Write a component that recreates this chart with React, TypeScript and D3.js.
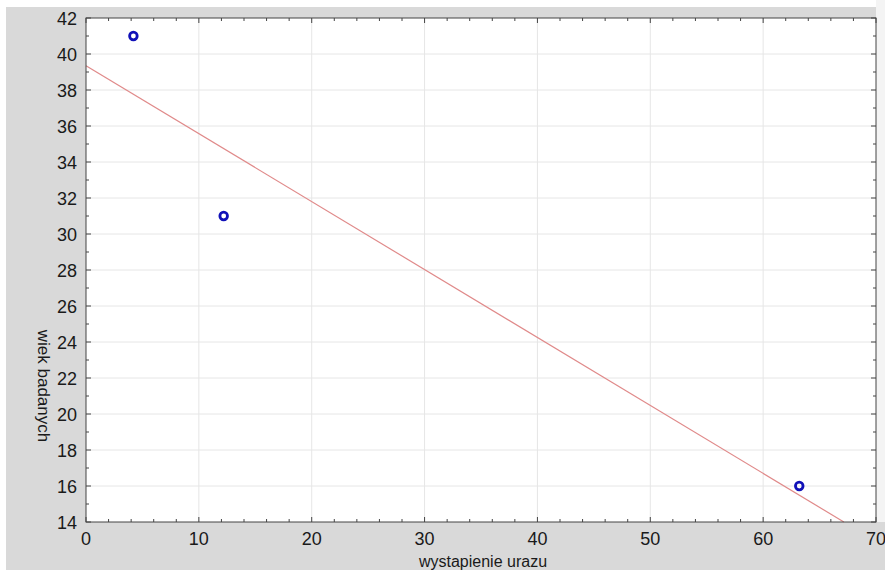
import { useEffect, useRef } from "react";
import * as d3 from "d3";

// wystąpienie urazu vs wiek badanych
const injuryOnset = [4.2, 12.2, 63.2];
const respondentAge = [41, 31, 16];
const xTicks = [0, 10, 20, 30, 40, 50, 60, 70];
const yTicks = [14, 16, 18, 20, 22, 24, 26, 28, 30, 32, 34, 36, 38, 40, 42];

const W = 885;
const H = 570;

export default function App() {
  const ref = useRef<SVGSVGElement>(null);

  useEffect(() => {
    const svg = d3.select(ref.current);
    svg.selectAll("*").remove();

    const margin = { top: 18, right: 9, bottom: 48, left: 86 };
    const x = d3.scaleLinear().domain([0, 70]).range([margin.left, W - margin.right]);
    const y = d3.scaleLinear().domain([14, 42]).range([H - margin.bottom, margin.top]);
    const [x0, x1] = x.range();
    const [y0, y1] = y.range();

    svg.append("rect").attr("width", W).attr("height", H).attr("fill", "#fff");
    svg.append("rect").attr("x", 6).attr("y", 7).attr("width", W - 6).attr("height", H - 7).attr("fill", "#d9d9d9");
    svg.append("rect").attr("x", x1).attr("y", 0).attr("width", W - x1).attr("height", y0).attr("fill", "#f4f4f4");
    svg.append("rect").attr("x", x0).attr("y", y1).attr("width", x1 - x0).attr("height", y0 - y1).attr("fill", "#fff");

    // grid
    const grid = svg.append("g").attr("stroke", "#e6e6e6").attr("stroke-width", 1);
    xTicks.slice(1, -1).forEach((t) => {
      grid.append("line").attr("x1", x(t)).attr("x2", x(t)).attr("y1", y1).attr("y2", y0);
    });
    yTicks.slice(1, -1).forEach((t) => {
      grid.append("line").attr("x1", x0).attr("x2", x1).attr("y1", y(t)).attr("y2", y(t));
    });

    // regression line
    const mx = d3.mean(injuryOnset)!;
    const my = d3.mean(respondentAge)!;
    const sxy = d3.sum(injuryOnset, (v, i) => (v - mx) * (respondentAge[i] - my));
    const sxx = d3.sum(injuryOnset, (v) => (v - mx) ** 2);
    const slope = sxy / sxx;
    const icpt = my - slope * mx;
    const xEnd = (14 - icpt) / slope;
    svg
      .append("line")
      .attr("x1", x(0))
      .attr("y1", y(icpt))
      .attr("x2", x(xEnd))
      .attr("y2", y(14))
      .attr("stroke", "#e08a8a")
      .attr("stroke-width", 1.2);

    // points
    svg
      .append("g")
      .selectAll("circle")
      .data(injuryOnset)
      .join("circle")
      .attr("cx", (d) => x(d))
      .attr("cy", (d, i) => y(respondentAge[i]))
      .attr("r", 3.8)
      .attr("fill", "none")
      .attr("stroke", "#1010b8")
      .attr("stroke-width", 2.8);

    // frame and ticks
    const frame = svg.append("g").attr("stroke", "#444").attr("stroke-width", 1);
    frame
      .append("rect")
      .attr("x", x0)
      .attr("y", y1)
      .attr("width", x1 - x0)
      .attr("height", y0 - y1)
      .attr("fill", "none");
    d3.range(0, 71, 2).forEach((t) => {
      const len = t % 10 === 0 ? 5 : 3;
      frame.append("line").attr("x1", x(t)).attr("x2", x(t)).attr("y1", y0).attr("y2", y0 - len);
      frame.append("line").attr("x1", x(t)).attr("x2", x(t)).attr("y1", y1).attr("y2", y1 + len);
    });
    d3.range(14, 43, 1).forEach((t) => {
      const len = t % 2 === 0 ? 5 : 3;
      frame.append("line").attr("x1", x0).attr("x2", x0 + len).attr("y1", y(t)).attr("y2", y(t));
      frame.append("line").attr("x1", x1).attr("x2", x1 - len).attr("y1", y(t)).attr("y2", y(t));
    });

    const font = "Liberation Sans, Arial, sans-serif";
    svg
      .append("g")
      .selectAll("text")
      .data(yTicks)
      .join("text")
      .attr("x", 77)
      .attr("y", (d) => y(d) + 6.5)
      .attr("text-anchor", "end")
      .attr("font-family", font)
      .attr("font-size", 18)
      .attr("fill", "#1a1a1a")
      .text((d) => d);
    svg
      .append("g")
      .selectAll("text")
      .data(xTicks)
      .join("text")
      .attr("x", (d) => x(d))
      .attr("y", 545)
      .attr("text-anchor", "middle")
      .attr("font-family", font)
      .attr("font-size", 18)
      .attr("fill", "#1a1a1a")
      .text((d) => d);

    svg
      .append("text")
      .attr("x", 483)
      .attr("y", 567)
      .attr("text-anchor", "middle")
      .attr("font-family", font)
      .attr("font-size", 16)
      .attr("fill", "#1a1a1a")
      .text("wystapienie urazu");
    svg
      .append("text")
      .attr("transform", "translate(38,386) rotate(90)")
      .attr("text-anchor", "middle")
      .attr("font-family", font)
      .attr("font-size", 17)
      .attr("fill", "#1a1a1a")
      .text("wiek badanych");
  }, []);

  return (
    <svg
      ref={ref}
      width={W}
      height={H}
      style={{ position: "absolute", left: 0, top: 0, display: "block" }}
    />
  );
}
